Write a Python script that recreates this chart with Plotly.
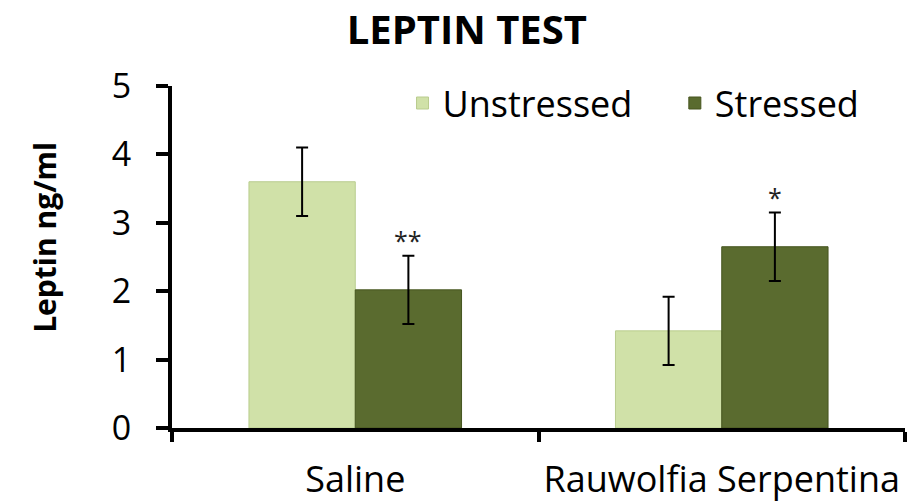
import plotly.graph_objects as go

groups = ['Saline', 'Rauwolfia Serpentina']
unstressed = [3.6, 1.42]
stressed = [2.02, 2.65]
unstressed_err = [0.5, 0.5]
stressed_err = [0.5, 0.5]
stressed_marks = ['**', '*']

light_green = '#D0E1A8'
dark_green = '#5A6B2F'
font_family = 'Open Sans, Liberation Sans, sans-serif'
bargap = 0.42

fig = go.Figure()
fig.add_trace(go.Bar(
    x=groups, y=unstressed, name='Unstressed', legend='legend',
    marker=dict(color=light_green, line=dict(color='#B9CC8E', width=1)),
    error_y=dict(type='data', array=unstressed_err, color='black', thickness=2, width=6),
))
fig.add_trace(go.Bar(
    x=groups, y=stressed, name='Stressed', legend='legend2',
    marker=dict(color=dark_green, line=dict(color='#46551F', width=1)),
    error_y=dict(type='data', array=stressed_err, color='black', thickness=2, width=6),
))

# significance marks above the stressed error bars
plot_w = 910 - 172 - 5
shift = (1 - bargap) / 4 * plot_w / len(groups)
for g, v, e, m in zip(groups, stressed, stressed_err, stressed_marks):
    fig.add_annotation(
        x=g, y=v + e, text=m, showarrow=False, xshift=shift, yanchor='bottom', yshift=-3,
        font=dict(size=25, color='#222222', family=font_family),
    )

# y axis title, placed a little above the plot's middle like the original
fig.add_annotation(
    text='<b>Leptin ng/ml</b>', textangle=-90, showarrow=False,
    x=0, xref='paper', xanchor='center', xshift=-127,
    y=0.556, yref='paper', yanchor='middle',
    font=dict(size=30, family=font_family, color='black'),
)

legend_style = dict(orientation='h', xanchor='left', y=0.95, yanchor='middle',
                    bgcolor='rgba(0,0,0,0)', font=dict(size=36, family=font_family))
fig.update_layout(
    width=910, height=503,
    margin=dict(l=172, r=5, t=86, b=75),
    paper_bgcolor='white', plot_bgcolor='white',
    barmode='group', bargap=bargap, bargroupgap=0,
    font=dict(family=font_family, color='black', size=34),
    title=dict(
        text='<b>LEPTIN TEST</b>', x=0.513, xanchor='center', y=0.941, yanchor='middle',
        font=dict(size=40, family=font_family, color='black'),
    ),
    legend=dict(x=0.3145, **legend_style),
    legend2=dict(x=0.686, **legend_style),
    showlegend=True,
)
fig.update_xaxes(
    showline=True, linecolor='black', linewidth=4, tickangle=0, tickfont=dict(size=36),
    ticks='outside', tickson='boundaries', ticklen=10, tickwidth=4, tickcolor='black',
    ticklabelstandoff=17, showgrid=False, automargin=False,
)
fig.update_yaxes(
    range=[0, 5], dtick=1, showline=True, linecolor='black', linewidth=4,
    ticks='outside', ticklen=12, tickwidth=4, tickcolor='black',
    ticklabelstandoff=18, showgrid=False, zeroline=False, automargin=False,
)

fig.write_html('out.html', config={'displayModeBar': False},
               post_script="document.body.style.margin='0';")
